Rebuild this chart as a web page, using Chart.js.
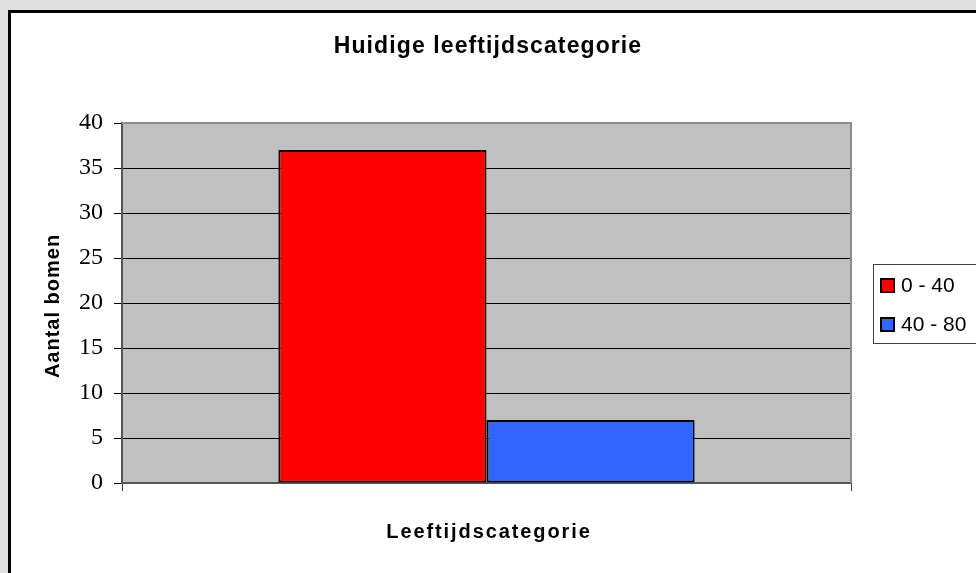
<!DOCTYPE html>
<html>
<head>
<meta charset="utf-8">
<title>Huidige leeftijdscategorie</title>
<script src="https://cdn.jsdelivr.net/npm/chart.js@4/dist/chart.umd.min.js"></script>
<style>
  html, body { margin: 0; padding: 0; background: #e0e0e0; }
  canvas { display: block; }
</style>
</head>
<body>
<canvas id="barChart" width="976" height="573"></canvas>
<script>
// leeftijdsklassen en aantallen bomen
const ageGroups = ["0 - 40", "40 - 80"];
const treeCounts = [37, 7];
const barColors = ["#ff0000", "#3366ff"];
const categories = [""];
const yTicks = { min: 0, max: 40, step: 5 };

const chartTitle = "Huidige leeftijdscategorie";
const xTitle = "Leeftijdscategorie";
const yTitle = "Aantal bomen";

const sans = "'Liberation Sans', Arial, sans-serif";
const serif = "'Liberation Serif', 'Times New Roman', serif";

// grijze achtergrond, witte kader en grijs plotvlak
const frame = {
  id: "frame",
  beforeDraw(chart) {
    const c = chart.ctx;
    const a = chart.chartArea;
    c.save();
    c.fillStyle = "#e0e0e0";
    c.fillRect(0, 0, chart.width, chart.height);
    c.fillStyle = "#ffffff";
    c.fillRect(9, 11, chart.width, chart.height);
    c.strokeStyle = "#000000";
    c.lineWidth = 3;
    c.strokeRect(9.5, 11.5, chart.width + 10, chart.height + 10);
    c.fillStyle = "#c0c0c0";
    c.fillRect(a.left, a.top, a.right - a.left, a.bottom - a.top);
    c.restore();
  },
  beforeDatasetsDraw(chart) {
    const c = chart.ctx;
    const a = chart.chartArea;
    c.save();
    c.strokeStyle = "#8c8c8c";
    c.lineWidth = 2;
    c.beginPath();
    c.moveTo(a.left, a.top);
    c.lineTo(a.right, a.top);
    c.lineTo(a.right, a.bottom);
    c.stroke();
    c.restore();
  }
};

// titels met wat extra letterafstand
const spacedTitles = {
  id: "spacedTitles",
  afterDraw(chart) {
    const c = chart.ctx;
    const a = chart.chartArea;
    const mid = (a.top + a.bottom) / 2;
    c.save();
    c.fillStyle = "#000000";
    c.textAlign = "center";
    c.textBaseline = "alphabetic";

    c.letterSpacing = "1.1px";
    c.font = "bold 23px " + sans;
    c.fillText(chartTitle, 488, 53);

    c.letterSpacing = "1.9px";
    c.font = "bold 20px " + sans;
    c.fillText(xTitle, 489, 538);

    c.letterSpacing = "1px";
    c.font = "bold 20px " + sans;
    c.translate(59, mid + 3);
    c.rotate(-Math.PI / 2);
    c.fillText(yTitle, 0, 0);
    c.restore();
  }
};

// legenda met kader rechts van de grafiek
const boxLegend = {
  id: "boxLegend",
  afterDraw(chart) {
    const c = chart.ctx;
    const x = 873, y = 264;
    c.save();
    c.fillStyle = "#ffffff";
    c.fillRect(x, y, 110, 79);
    c.strokeStyle = "#404040";
    c.lineWidth = 1;
    c.strokeRect(x + 0.5, y + 0.5, 110, 79);
    c.font = "21px " + sans;
    c.textBaseline = "middle";
    chart.data.datasets.forEach((ds, i) => {
      const ry = y + 15 + i * 39;
      c.fillStyle = ds.backgroundColor;
      c.fillRect(x + 8, ry, 13, 13);
      c.strokeStyle = "#000000";
      c.lineWidth = 2;
      c.strokeRect(x + 8, ry, 13, 13);
      c.fillStyle = "#000000";
      c.fillText(ds.label, x + 28, ry + 7);
    });
    c.restore();
  }
};

new Chart(document.getElementById("barChart"), {
  type: "bar",
  data: {
    labels: categories,
    datasets: ageGroups.map((g, i) => ({
      label: g,
      data: [treeCounts[i]],
      backgroundColor: barColors[i],
      borderColor: "#000000",
      borderWidth: 2,
      borderSkipped: false,
      categoryPercentage: 0.571,
      barPercentage: 1
    }))
  },
  options: {
    responsive: false,
    animation: false,
    layout: { padding: { top: 123, left: 12, right: 125, bottom: 0 } },
    plugins: {
      legend: { display: false },
      tooltip: { enabled: false },
      title: { display: false }
    },
    scales: {
      x: {
        afterFit(scale) { scale.height = 90; },
        grid: { drawOnChartArea: false, drawTicks: true, tickLength: 8, color: "#404040" },
        border: { color: "#555555", width: 2 },
        ticks: { display: false }
      },
      y: {
        min: yTicks.min,
        max: yTicks.max,
        afterFit(scale) { scale.width = 110; },
        grid: {
          color: (ctx) => (ctx.tick && ctx.tick.value === yTicks.max ? "#8c8c8c" : "#000000"),
          tickColor: "#000000",
          tickLength: 8,
          lineWidth: 1
        },
        border: { color: "#555555", width: 2 },
        ticks: {
          stepSize: yTicks.step,
          color: "#000000",
          padding: 11,
          font: { family: serif, size: 24 }
        }
      }
    }
  },
  plugins: [frame, spacedTitles, boxLegend]
});
</script>
</body>
</html>
